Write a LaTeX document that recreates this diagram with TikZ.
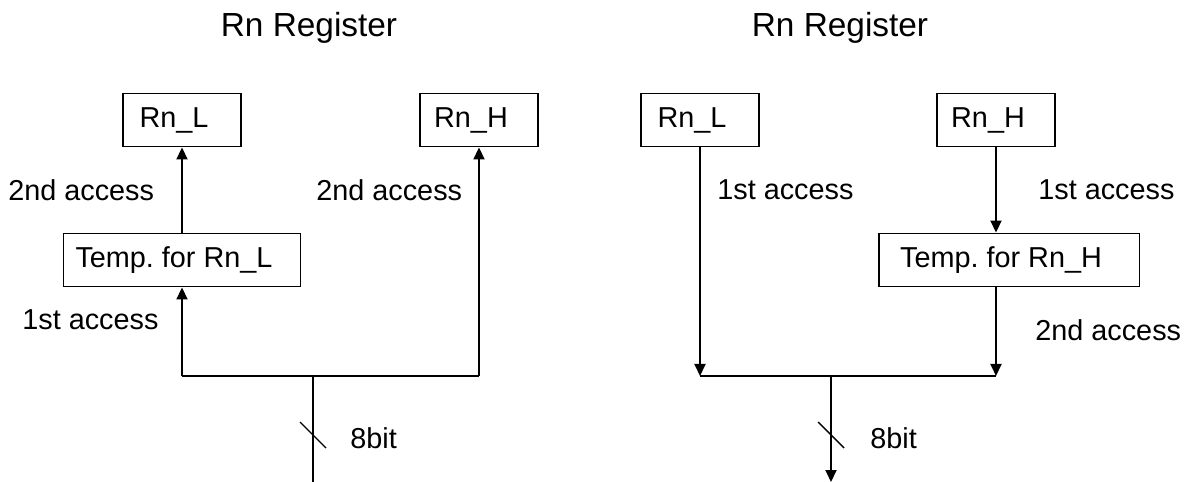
\documentclass[tikz,border=0pt]{standalone}
\usepackage{fontspec}
\setmainfont{Liberation Sans}
\usetikzlibrary{arrows.meta,positioning}

\begin{document}
\begin{tikzpicture}[
  x=0.02cm, y=-0.02cm,
  reg/.style={draw,line width=1.1pt,minimum width=2.36cm,minimum height=1.06cm,inner sep=0pt,font=\fontsize{16.4}{19}\selectfont,execute at end node={\hspace{0.32cm}}},
  tmp/.style={reg,minimum width=4.74cm},
  lbl/.style={font=\fontsize{16.4}{19}\selectfont,inner sep=0pt,anchor=west},
  ttl/.style={font=\fontsize{19}{23}\selectfont},
  flow/.style={-{Triangle[length=0.24cm,width=0.22cm]},line width=1.1pt},
  bus/.style={line width=1.1pt},
  node distance=0.7cm
]
  \useasboundingbox (0,0) rectangle (1187,482);

  % write side
  \node[ttl] (tw) at (309,28) {Rn Register};
  \node[reg] (rlw) at (182,120) {Rn\_L};
  \node[reg] (rhw) at (479,120) {Rn\_H};
  \node[tmp] (tlw) at (182,260) {Temp.\ for Rn\_L};
  \coordinate (jw) at (313,376);
  \coordinate (bw) at (313,482);
  \coordinate (kw) at (313,435);

  \draw[flow] (tlw) -- (rlw);
  \draw[flow] (tlw |- jw) -- (tlw);
  \draw[flow] (rhw |- jw) -- (rhw);
  \draw[bus] (tlw |- jw) -- (rhw |- jw);
  \draw[bus] (jw) -- (bw);
  \draw[line width=0.8pt] ([shift={(-13,-13)}]kw) -- ([shift={(13,13)}]kw);

  \node[lbl] (a2w) at (8,190) {2nd access};
  \node[lbl] (b2w) at (316,190) {2nd access};
  \node[lbl] (a1w) at (22,320) {1st access};
  \node[lbl] (nw) at (350,438) {8bit};

  % read side
  \node[ttl] (tr) at (840,28) {Rn Register};
  \node[reg] (rlr) at (700,120) {Rn\_L};
  \node[reg] (rhr) at (996,120) {Rn\_H};
  \node[tmp,minimum width=5.22cm] (thr) at (1009,260) {Temp.\ for Rn\_H};
  \coordinate (jr) at (831,376);
  \coordinate (br) at (831,482);
  \coordinate (kr) at (831,435);

  \draw[flow] (rlr) -- (rlr |- jr);
  \draw[flow] (rhr) -- (rhr |- thr.north);
  \draw[flow] (thr.south -| rhr) -- (rhr |- jr);
  \draw[bus] (rlr |- jr) -- (rhr |- jr);
  \draw[flow] (jr) -- (br);
  \draw[line width=0.8pt] ([shift={(-13,-13)}]kr) -- ([shift={(13,13)}]kr);

  \node[lbl] (a1r) at (717,190) {1st access};
  \node[lbl] (b1r) at (1038,190) {1st access};
  \node[lbl] (a2r) at (1035,330) {2nd access};
  \node[lbl] (nr) at (870,438) {8bit};
\end{tikzpicture}
\end{document}
